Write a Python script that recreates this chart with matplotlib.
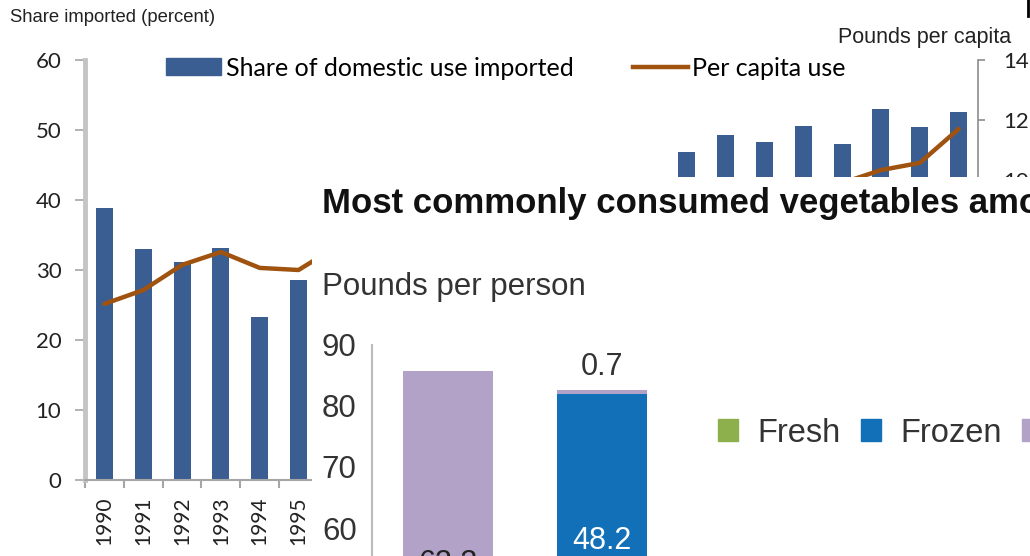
import numpy as np
import matplotlib
matplotlib.use("Agg")
import matplotlib.pyplot as plt
from matplotlib.patches import Patch
from matplotlib.lines import Line2D

# Background chart: import share (bars) and per capita use (line)
years = [str(y) for y in range(1990, 2013)]
share_imported = [38.9, 33.0, 31.2, 33.2, 23.3, 28.6, 31.5, 34.0, 35.5, 37.0,
                  38.0, 39.0, 40.0, 41.5, 42.5, 46.9, 49.3, 48.3, 50.6, 48.0,
                  53.0, 50.4, 52.6]
per_capita = [5.87, 6.33, 7.17, 7.6, 7.07, 7.0, 7.8, 8.1, 8.3, 8.5,
              8.6, 8.8, 8.9, 9.1, 9.2, 9.4, 9.5, 9.7, 9.8, 9.9,
              10.33, 10.57, 11.7]

# Overlay chart: most commonly consumed vegetables
veg = ["Tomatoes", "Potatoes"]
fresh = [22.5, 33.8]
frozen = [0.0, 48.2]
canned = [63.3, 0.7]

W, H = 1030, 556
BLUE = "#3B5E92"
BROWN = "#A0520F"

fig = plt.figure(figsize=(W / 100, H / 100), dpi=100)
fig.patch.set_facecolor("white")

# ---- background chart ----
ax = fig.add_axes([85 / W, 1 - 480 / H, (978 - 85) / W, 420 / H])
x = np.arange(len(years))
ax.bar(x, share_imported, width=0.44, color=BLUE)
ax.set_xlim(-0.5, len(years) - 0.5)
ax.set_ylim(0, 60)
ax.set_yticks(range(0, 61, 10))
ax.set_xticks(x)
ax.set_xticklabels(years, rotation=90, fontsize=15, family="Lato", color="#222222")
ax.set_xticks(np.arange(-0.5, len(years)), minor=True)
ax.tick_params(axis="x", which="major", length=0, pad=12)
ax.tick_params(axis="x", which="minor", length=6, color="#A6A6A6", width=1.5)
ax.tick_params(axis="y", length=7, color="#A6A6A6", width=1.2, pad=10,
               labelsize=16, labelcolor="#222222")
for lab in ax.get_yticklabels():
    lab.set_family("Lato")
for s in ["top", "right"]:
    ax.spines[s].set_visible(False)
ax.spines["left"].set_color("#C4C4C4")
ax.spines["left"].set_linewidth(3.5)
ax.spines["bottom"].set_color("#A6A6A6")
ax.spines["bottom"].set_linewidth(1.5)

ax2 = ax.twinx()
ax2.plot(x, per_capita, color=BROWN, lw=3.2, solid_capstyle="round")
ax2.set_ylim(0, 14)
ax2.set_yticks(range(0, 15, 2))
ax2.tick_params(axis="y", length=5, color="#8C8C8C", width=1.2, pad=13,
                labelsize=16, labelcolor="#222222")
for lab in ax2.get_yticklabels():
    lab.set_family("Lato")
for s in ["top", "left", "bottom"]:
    ax2.spines[s].set_visible(False)
ax2.spines["right"].set_color("#8C8C8C")
ax2.spines["right"].set_linewidth(1.2)

handles = [Patch(color=BLUE), Line2D([], [], color=BROWN, lw=3.2)]
fig.legend(handles, ["Share of domestic use imported", "Per capita use"],
           loc="center left", bbox_to_anchor=(166 / W, 1 - 68 / H), ncol=2,
           frameon=False, borderpad=0, borderaxespad=0, handlelength=2.2,
           handleheight=0.68, handletextpad=0.2, columnspacing=2.35,
           prop={"family": "Lato", "size": 18})

fig.text(10 / W, 1 - 17 / H, "Share imported (percent)", fontsize=13.3,
         family="Liberation Sans", color="#222222", va="center")
fig.text(838 / W, 1 - 37 / H, "Pounds per capita", fontsize=15.5,
         family="Liberation Sans", color="#222222", va="center")
fig.add_artist(Line2D([1028 / W, 1028 / W], [1, 1 - 16 / H], color="black",
                      lw=2, transform=fig.transFigure))

# ---- overlay panel ----
panel = fig.add_axes([312 / W, 0, (W - 312) / W, (H - 177) / H])
panel.set_facecolor("white")
panel.set_xticks([])
panel.set_yticks([])
for s in panel.spines.values():
    s.set_visible(False)
panel.set_zorder(5)

fig.text(322 / W, 1 - 203 / H, "Most commonly consumed vegetables among Americans",
         fontsize=25, fontweight="bold", family="Liberation Sans", color="#111111",
         va="center", zorder=10)
fig.text(322 / W, 1 - 287 / H, "Pounds per person", fontsize=22.5,
         family="Liberation Sans", color="#333333", va="center", zorder=10)

px_per_unit = 6.1
top_px = 345
axb = fig.add_axes([372 / W, 1 - (top_px + 90 * px_per_unit) / H,
                    (W - 372) / W, 90 * px_per_unit / H])
axb.set_zorder(6)
axb.patch.set_alpha(0)
xb = np.arange(len(veg))
bw = 0.584
greens, blues, purples = "#8DB04C", "#1170B8", "#B3A2C8"
axb.bar(xb, fresh, width=bw, color=greens)
axb.bar(xb, frozen, width=bw, bottom=fresh, color=blues)
base2 = np.array(fresh) + np.array(frozen)
axb.bar(xb, canned, width=bw, bottom=base2, color=purples)
axb.set_xlim(-0.494, (W - 372) / 154 - 0.494)
axb.set_ylim(0, 90)
axb.set_yticks(range(0, 91, 10))
axb.set_xticks([])
axb.tick_params(axis="y", length=0, pad=11, labelsize=22.5, labelcolor="#333333")
for lab in axb.get_yticklabels():
    lab.set_family("Liberation Sans")
for s in ["top", "right", "bottom"]:
    axb.spines[s].set_visible(False)
axb.spines["left"].set_color("#BBBBBB")
axb.spines["left"].set_linewidth(1.5)

for i in xb:
    bottoms = [0, fresh[i], base2[i]]
    for vals, b, col in [(fresh, bottoms[0], "#222222"), (frozen, bottoms[1], "white"),
                         (canned, bottoms[2], "#222222")]:
        v = vals[i]
        if v <= 0:
            continue
        if v < 3:
            axb.annotate(f"{v:.1f}", (i, b + v), xytext=(0, 16), textcoords="offset points",
                         ha="center", va="center", fontsize=22, color="#333333",
                         family="Liberation Sans")
        else:
            axb.text(i, b + v / 2, f"{v:.1f}", ha="center", va="center", fontsize=22,
                     color=col, family="Liberation Sans")

vh = [Patch(color=greens), Patch(color=blues), Patch(color=purples)]
leg = fig.legend(vh, ["Fresh", "Frozen", "Canned"], loc="center left",
                 bbox_to_anchor=(718 / W, 1 - 433 / H), ncol=3, frameon=False,
                 borderpad=0, borderaxespad=0, handlelength=0.62, handleheight=0.62,
                 handletextpad=0.6, columnspacing=0.6,
                 prop={"family": "Liberation Sans", "size": 23.5})
for t in leg.get_texts():
    t.set_color("#333333")
leg.set_zorder(10)

fig.savefig("out.png", dpi=100, facecolor="white")
